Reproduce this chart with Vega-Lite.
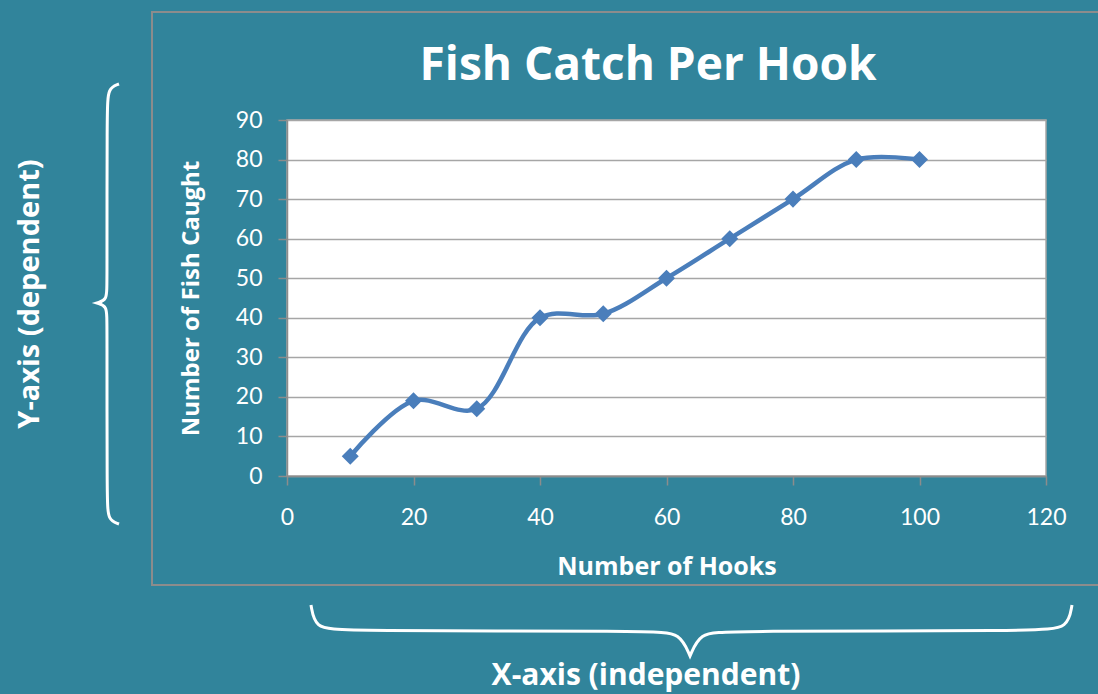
{
  "$schema": "https://vega.github.io/schema/vega-lite/v6.json",
  "autosize": {"type": "none"},
  "width": 759,
  "height": 356,
  "padding": {"left": 287, "top": 120, "right": 52, "bottom": 218},
  "background": "#31849b",
  "config": {
    "view": {"fill": "white", "stroke": "#a6a6a6", "strokeWidth": 1.5},
    "axis": {
      "labelColor": "white",
      "labelFont": "Lato",
      "labelFontSize": 23,
      "titleColor": "white",
      "titleFont": "Open Sans",
      "titleFontSize": 24,
      "titleFontWeight": "bold",
      "tickColor": "#8c8c8c",
      "tickSize": 9,
      "tickWidth": 1.5,
      "domainColor": "#8c8c8c",
      "domainWidth": 1.5,
      "gridColor": "#a6a6a6",
      "gridWidth": 1.5,
      "labelOverlap": false,
      "labelFlush": false
    },
    "axisX": {"grid": false, "titleFontSize": 25, "labelPadding": 21, "titlePadding": 25},
    "axisY": {"grid": true, "labelPadding": 16, "titlePadding": 32}
  },
  "layer": [
    {
      "data": {"values": [
        {"hooks": 10, "fish": 5},
        {"hooks": 20, "fish": 19},
        {"hooks": 30, "fish": 17},
        {"hooks": 40, "fish": 40},
        {"hooks": 50, "fish": 41},
        {"hooks": 60, "fish": 50},
        {"hooks": 70, "fish": 60},
        {"hooks": 80, "fish": 70},
        {"hooks": 90, "fish": 80},
        {"hooks": 100, "fish": 80}
      ]},
      "layer": [
        {
          "mark": {"type": "line", "color": "#4a7ebb", "strokeWidth": 4.5, "interpolate": "catmull-rom"},
          "encoding": {
            "x": {"field": "hooks", "type": "quantitative",
              "scale": {"domain": [0, 120], "nice": false, "zero": false},
              "axis": {"values": [0, 20, 40, 60, 80, 100, 120], "title": "Number of Hooks"}},
            "y": {"field": "fish", "type": "quantitative",
              "scale": {"domain": [0, 90], "nice": false, "zero": false},
              "axis": {"values": [0, 10, 20, 30, 40, 50, 60, 70, 80, 90], "title": "Number of Fish Caught"}}
          }
        },
        {
          "mark": {"type": "point", "shape": "diamond", "filled": true, "color": "#4a7ebb", "size": 290, "opacity": 1},
          "encoding": {
            "x": {"field": "hooks", "type": "quantitative", "axis": {"values": [0, 20, 40, 60, 80, 100, 120], "title": "Number of Hooks"}},
            "y": {"field": "fish", "type": "quantitative", "axis": {"values": [0, 10, 20, 30, 40, 50, 60, 70, 80, 90], "title": "Number of Fish Caught"}}
          }
        }
      ]
    },
    {
      "data": {"values": [{}]},
      "mark": {"type": "rect", "fill": null, "stroke": "#8c8c8c", "strokeWidth": 2, "clip": false},
      "encoding": {
        "x": {"datum": -21.34, "type": "quantitative", "axis": {"values": [0, 20, 40, 60, 80, 100, 120], "title": "Number of Hooks"}},
        "x2": {"datum": 140},
        "y": {"datum": -27.55, "type": "quantitative", "axis": {"values": [0, 10, 20, 30, 40, 50, 60, 70, 80, 90], "title": "Number of Fish Caught"}},
        "y2": {"datum": 117.3}
      }
    },
    {
      "data": {"values": [
        {"k": 1, "bx": -26.56, "by": 99.10},
        {"k": 2, "bx": -28.30, "by": 98.09},
        {"k": 3, "bx": -28.46, "by": 92.53},
        {"k": 4, "bx": -28.46, "by": 48.29},
        {"k": 5, "bx": -28.46, "by": 44.49},
        {"k": 6, "bx": -30.04, "by": 43.74},
        {"k": 7, "bx": -30.04, "by": 43.74},
        {"k": 8, "bx": -30.04, "by": 43.74},
        {"k": 9, "bx": -28.46, "by": 42.98},
        {"k": 10, "bx": -28.46, "by": 39.18},
        {"k": 11, "bx": -28.46, "by": -6.07},
        {"k": 12, "bx": -28.30, "by": -11.12},
        {"k": 13, "bx": -26.56, "by": -12.13}
      ]},
      "mark": {"type": "line", "color": "white", "strokeWidth": 3, "interpolate": "basis", "clip": false},
      "encoding": {
        "x": {"field": "bx", "type": "quantitative", "axis": {"values": [0, 20, 40, 60, 80, 100, 120], "title": "Number of Hooks"}},
        "y": {"field": "by", "type": "quantitative", "axis": {"values": [0, 10, 20, 30, 40, 50, 60, 70, 80, 90], "title": "Number of Fish Caught"}},
        "order": {"field": "k"}
      }
    },
    {
      "data": {"values": [
        {"k": 1, "bx": 3.79, "by": -32.61},
        {"k": 2, "bx": 4.43, "by": -38.43},
        {"k": 3, "bx": 8.38, "by": -39.18},
        {"k": 4, "bx": 58.18, "by": -39.18},
        {"k": 5, "bx": 62.13, "by": -39.69},
        {"k": 6, "bx": 63.72, "by": -45.50},
        {"k": 7, "bx": 63.72, "by": -45.50},
        {"k": 8, "bx": 63.72, "by": -45.50},
        {"k": 9, "bx": 65.30, "by": -39.69},
        {"k": 10, "bx": 69.25, "by": -39.18},
        {"k": 11, "bx": 119.05, "by": -39.18},
        {"k": 12, "bx": 123.48, "by": -38.43},
        {"k": 13, "bx": 124.11, "by": -32.61}
      ]},
      "mark": {"type": "line", "color": "white", "strokeWidth": 3, "interpolate": "basis", "clip": false},
      "encoding": {
        "x": {"field": "bx", "type": "quantitative", "axis": {"values": [0, 20, 40, 60, 80, 100, 120], "title": "Number of Hooks"}},
        "y": {"field": "by", "type": "quantitative", "axis": {"values": [0, 10, 20, 30, 40, 50, 60, 70, 80, 90], "title": "Number of Fish Caught"}},
        "order": {"field": "k"}
      }
    },
    {
      "data": {"values": [{}]},
      "mark": {"type": "text", "text": "Fish Catch Per Hook", "color": "white", "font": "Open Sans", "fontSize": 46, "fontWeight": "bold", "align": "center", "baseline": "middle", "clip": false},
      "encoding": {
        "x": {"datum": 57.08, "type": "quantitative", "axis": {"values": [0, 20, 40, 60, 80, 100, 120], "title": "Number of Hooks"}},
        "y": {"datum": 103.65, "type": "quantitative", "axis": {"values": [0, 10, 20, 30, 40, 50, 60, 70, 80, 90], "title": "Number of Fish Caught"}}
      }
    },
    {
      "data": {"values": [{}]},
      "mark": {"type": "text", "text": "Y-axis (dependent)", "color": "white", "font": "Open Sans", "fontSize": 29, "fontWeight": "bold", "angle": 270, "align": "center", "baseline": "middle", "clip": false},
      "encoding": {
        "x": {"datum": -40.63, "type": "quantitative", "axis": {"values": [0, 20, 40, 60, 80, 100, 120], "title": "Number of Hooks"}},
        "y": {"datum": 46.0, "type": "quantitative", "axis": {"values": [0, 10, 20, 30, 40, 50, 60, 70, 80, 90], "title": "Number of Fish Caught"}}
      }
    },
    {
      "data": {"values": [{}]},
      "mark": {"type": "text", "text": "X-axis (independent)", "color": "white", "font": "Open Sans", "fontSize": 30, "fontWeight": "bold", "align": "center", "baseline": "middle", "clip": false},
      "encoding": {
        "x": {"datum": 56.76, "type": "quantitative", "axis": {"values": [0, 20, 40, 60, 80, 100, 120], "title": "Number of Hooks"}},
        "y": {"datum": -50.56, "type": "quantitative", "axis": {"values": [0, 10, 20, 30, 40, 50, 60, 70, 80, 90], "title": "Number of Fish Caught"}}
      }
    }
  ]
}
